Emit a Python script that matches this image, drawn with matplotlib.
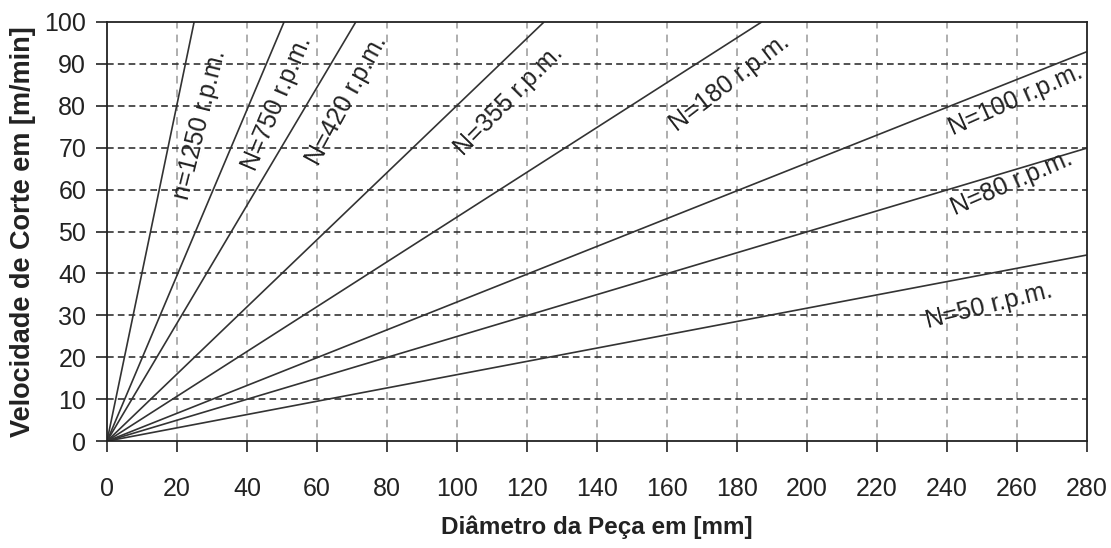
import matplotlib
matplotlib.use("Agg")
import matplotlib.pyplot as plt
import numpy as np

plt.rcParams['font.family'] = ['Liberation Sans Narrow', 'Liberation Sans', 'DejaVu Sans']

# rotation speeds and where each line ends
labels = ["n=1250 r.p.m.", "N=750 r.p.m.", "N=420 r.p.m.", "N=355 r.p.m.",
          "N=180 r.p.m.", "N=100 r.p.m.", "N=80 r.p.m.", "N=50 r.p.m."]
end_x = [24.9, 50.6, 71.1, 124.9, 187.1, 280, 280, 280]
end_y = [100, 100, 100, 100, 100, 92.9, 69.9, 44.4]

# label placement (data coords) and angle on screen
lab_x = [26.6, 48.6, 68.6, 114.9, 178.0, 259.7, 258.6, 252.0]
lab_y = [75.4, 80.7, 81.4, 81.4, 85.4, 81.4, 61.6, 32.2]
lab_rot = [76, 67, 61.5, 45.5, 37.5, 24, 23.5, 14]

xticks = np.arange(0, 281, 20)
yticks = np.arange(0, 101, 10)

fig = plt.figure(figsize=(11.11, 5.48), dpi=100)
ax = fig.add_axes([0.0963, 0.195, 0.8820, 0.765])

for xe, ye in zip(end_x, end_y):
    ax.plot([0, xe], [0, ye], color='#333333', lw=1.2, solid_capstyle='butt')

for t, x, y, r in zip(labels, lab_x, lab_y, lab_rot):
    ax.text(x, y, t, rotation=r, ha='center', va='center', fontsize=18,
            color='#222222', rotation_mode='anchor')

ax.set_xlim(0, 280)
ax.set_ylim(0, 100)
ax.set_xticks(xticks)
ax.set_yticks(yticks)
ax.tick_params(direction='out', length=8, width=1.2, labelsize=18,
               colors='#222222', pad=7)
ax.tick_params(axis='x', pad=18)
for xv in xticks[1:-1]:
    ax.axvline(xv, color='#999999', lw=1.1, ls=(0, (5, 4)), zorder=0)
for yv in yticks[1:-1]:
    ax.axhline(yv, color='#333333', lw=1.2, ls=(0, (4, 2.5)), zorder=0)
for s in ax.spines.values():
    s.set_linewidth(1.3)
    s.set_color('#222222')

ax.set_xlabel("Diâmetro da Peça em [mm]", fontsize=17.5, fontweight='bold',
              labelpad=10, color='#222222')
ax.set_ylabel("Velocidade de Corte em [m/min]", fontsize=19.5, fontweight='bold',
              family=['Liberation Sans', 'DejaVu Sans'], labelpad=6,
              color='#222222')

fig.savefig("out.png", dpi=100)
